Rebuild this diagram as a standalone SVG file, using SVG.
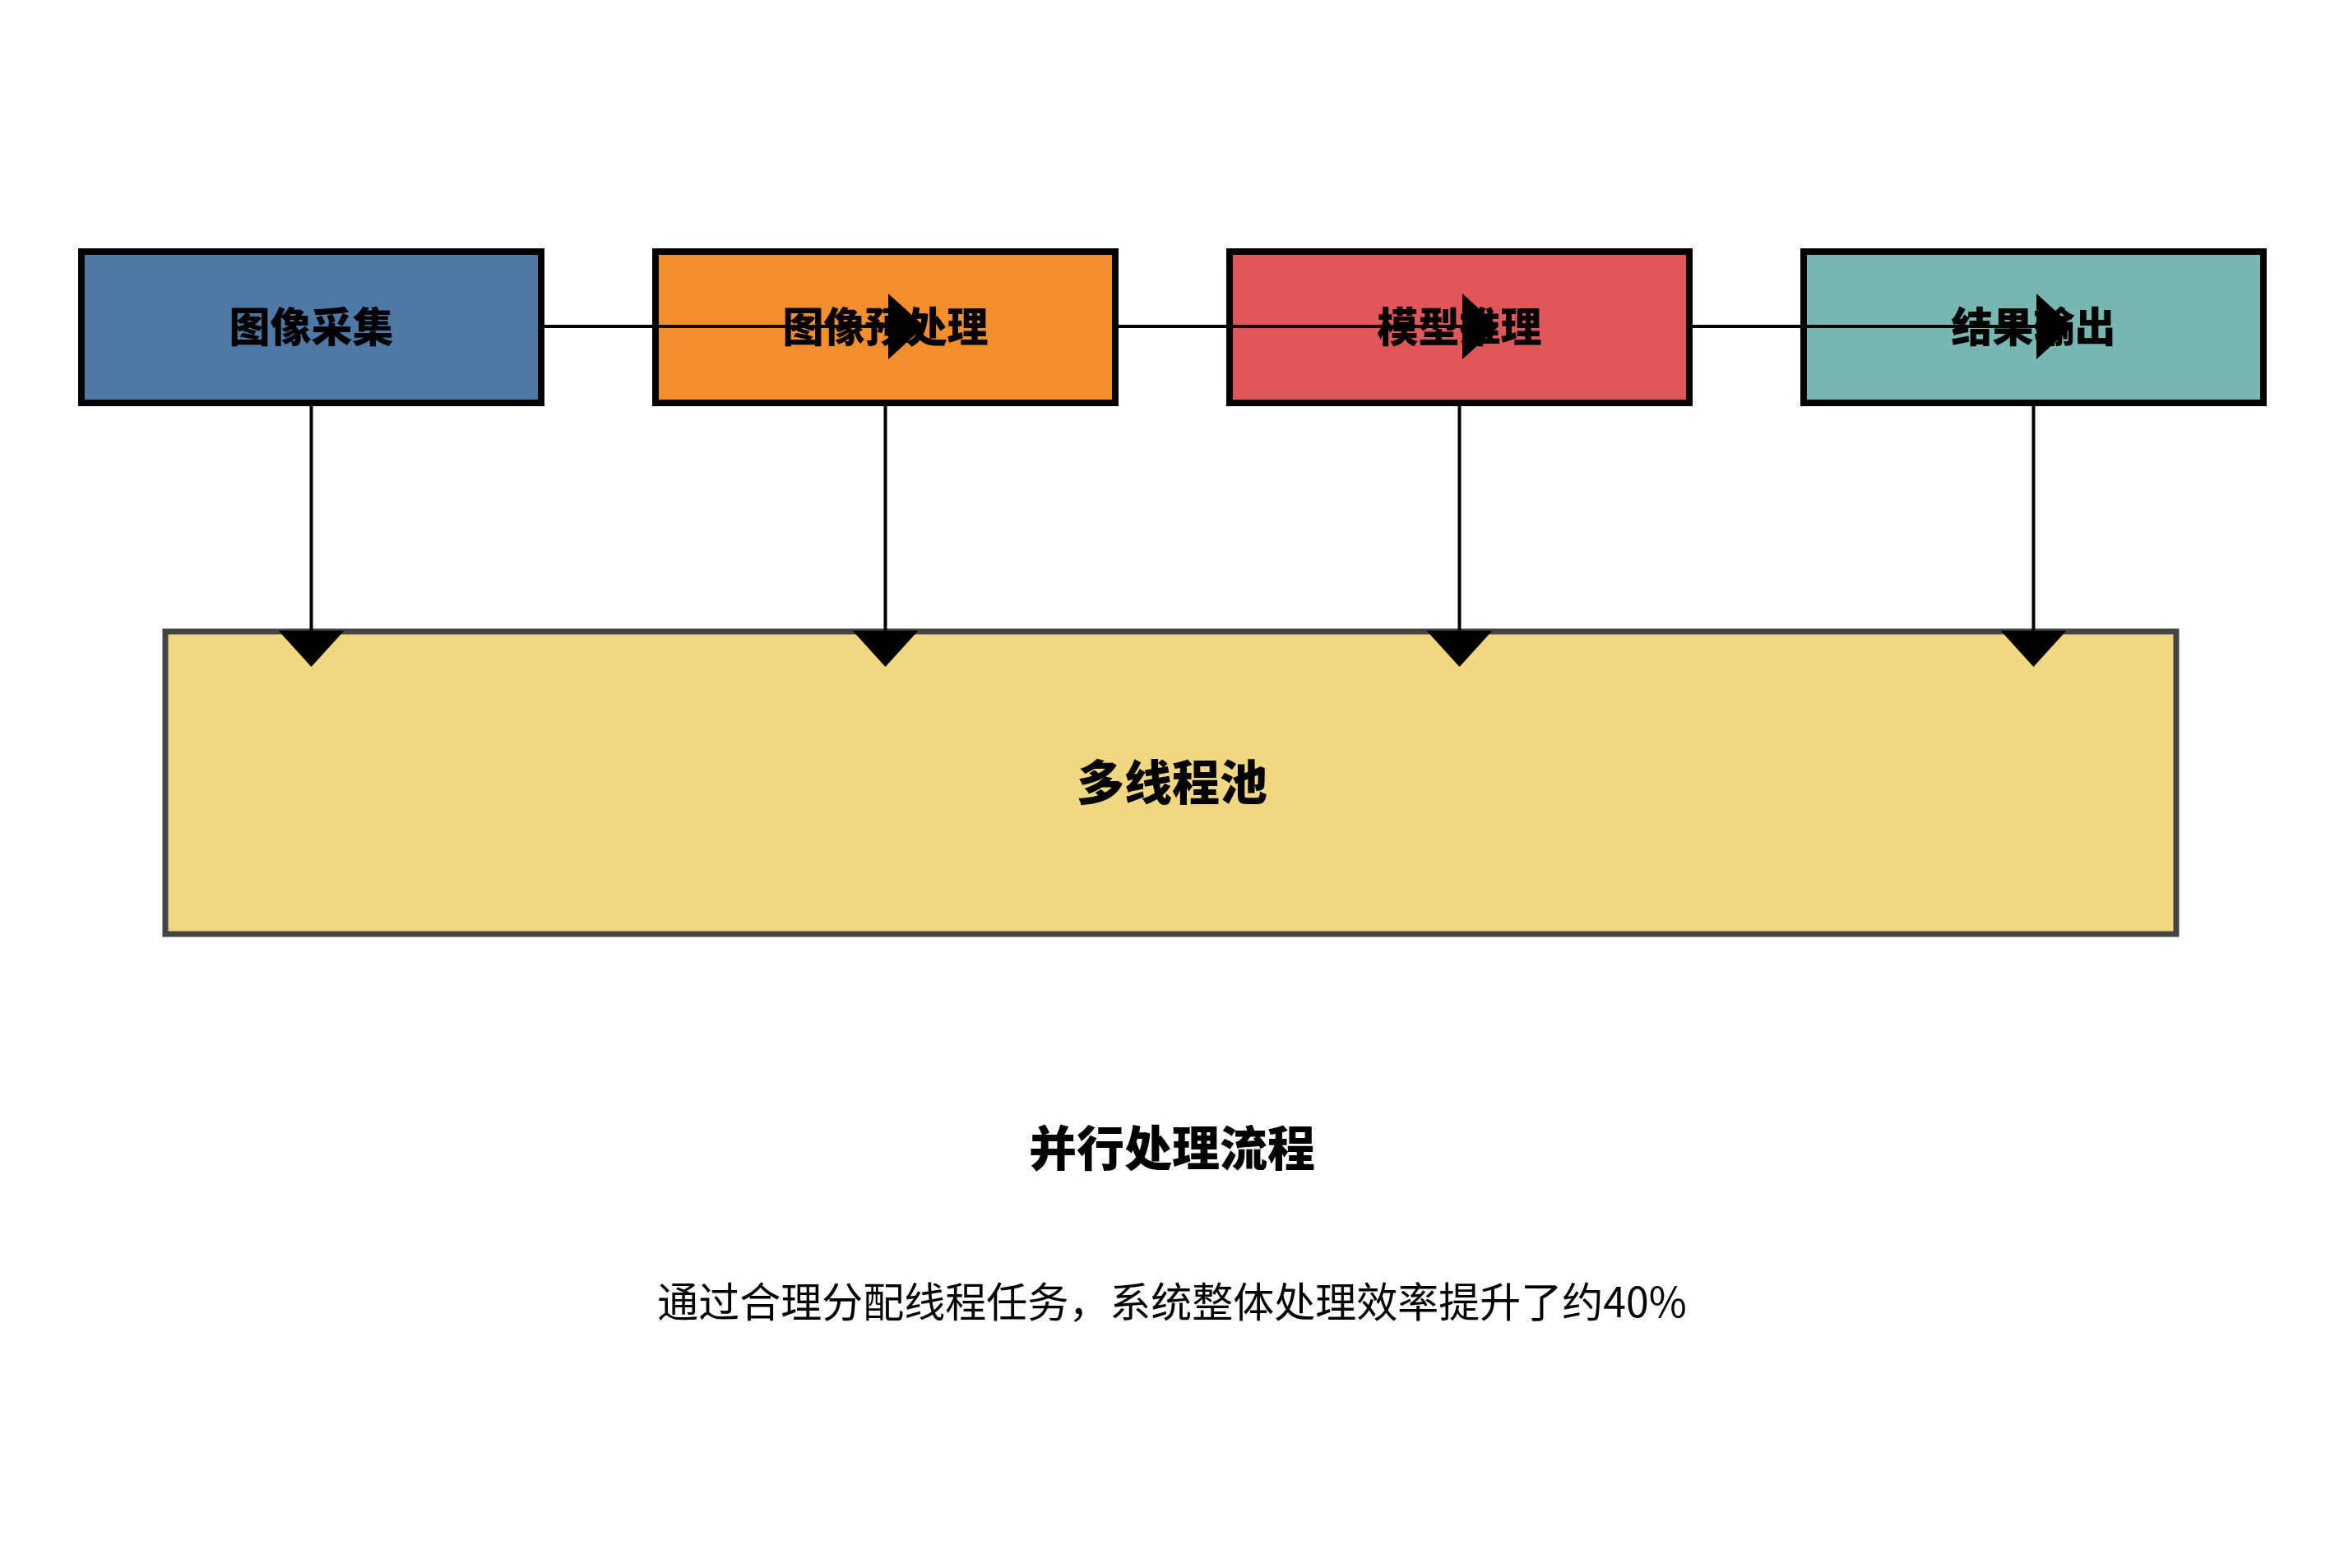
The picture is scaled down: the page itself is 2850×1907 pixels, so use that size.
<svg xmlns="http://www.w3.org/2000/svg" width="2850" height="1907" viewBox="0 0 2850 1907">
<style>
.box{stroke:#000;stroke-width:8}
.lbl{font-family:"Noto Sans CJK SC","Noto Sans",sans-serif;font-weight:900;font-size:50px;text-anchor:middle;dominant-baseline:central;fill:#000}
.conn{stroke:#000;stroke-width:4;fill:none;marker-end:url(#arr)}
</style>
<defs>
<marker id="arr" markerUnits="userSpaceOnUse" markerWidth="44" markerHeight="80" refX="0" refY="40" orient="auto">
<path d="M0,0 L44,40 L0,80 Z" fill="#000"/>
</marker>
</defs>
<rect x="0" y="0" width="2850" height="1907" fill="#fff"/>
<g id="node-capture"><rect class="box" x="99" y="306" width="559" height="184" fill="#4E79A7"/><text class="lbl" x="378.5" y="394">图像采集</text></g>
<g id="node-preprocess"><rect class="box" x="797" y="306" width="559" height="184" fill="#F28E2B"/><text class="lbl" x="1076.5" y="394">图像预处理</text></g>
<g id="node-inference"><rect class="box" x="1495" y="306" width="559" height="184" fill="#E15759"/><text class="lbl" x="1774.5" y="394">模型推理</text></g>
<g id="node-output"><rect class="box" x="2193" y="306" width="559" height="184" fill="#76B7B2"/><text class="lbl" x="2472.5" y="394">结果输出</text></g>
<g id="node-pool"><rect x="201" y="768" width="2445" height="368" fill="#F1D880" stroke="#444" stroke-width="7"/><text class="lbl" x="1425" y="948" style="font-size:58px">多线程池</text></g>
<g id="connectors">
<line class="conn" x1="662" y1="397" x2="1080" y2="397"/>
<line class="conn" x1="1360" y1="397" x2="1778" y2="397"/>
<line class="conn" x1="2058" y1="397" x2="2476" y2="397"/>
<line class="conn" x1="378.5" y1="494" x2="378.5" y2="767"/>
<line class="conn" x1="1076.5" y1="494" x2="1076.5" y2="767"/>
<line class="conn" x1="1774.5" y1="494" x2="1774.5" y2="767"/>
<line class="conn" x1="2472.5" y1="494" x2="2472.5" y2="767"/>
</g>
<g id="caption">
<text class="lbl" x="1425" y="1393" style="font-size:58px">并行处理流程</text>
<text x="1425" y="1580" style="font-family:'Noto Sans CJK SC','Noto Sans',sans-serif;font-size:50px;text-anchor:middle;dominant-baseline:central;fill:#000">通过合理分配线程任务，系统整体处理效率提升了约40%</text>
</g>
</svg>
